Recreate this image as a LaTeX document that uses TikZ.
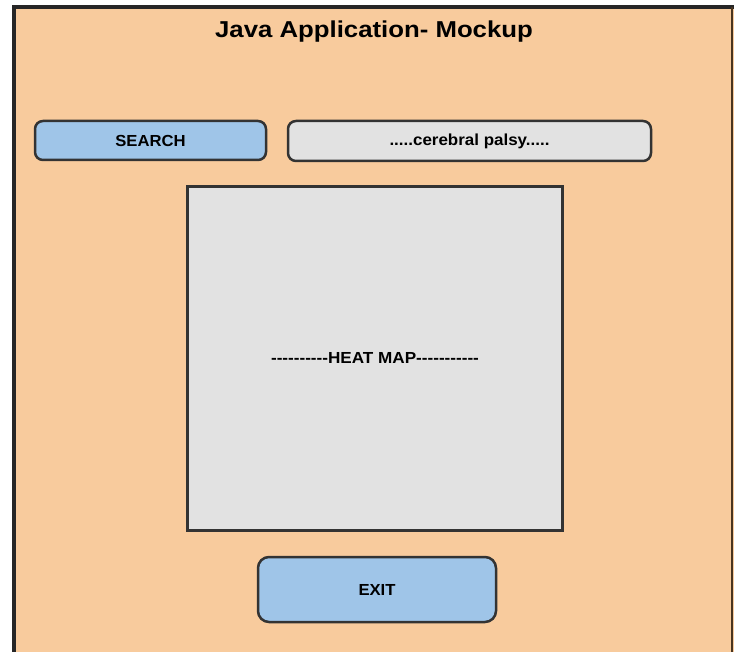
\documentclass[tikz,border=0pt]{standalone}
\usepackage{fontspec}
\setmainfont{Liberation Sans}
% same face without the TeX dash mapping, so runs of hyphens stay hyphens
\newfontfamily\plainsans{Liberation Sans}
\usepackage{graphicx}
\definecolor{peach}{HTML}{F8CB9D}
\definecolor{btnblue}{HTML}{9FC5E8}
\definecolor{fieldgray}{HTML}{E2E2E2}
\definecolor{edgegray}{HTML}{333333}
\definecolor{rightedge}{HTML}{4A3520}
\tikzset{
  btnbox/.style={draw=edgegray, line width=2.5pt, fill=btnblue, rounded corners=8pt},
  fieldbox/.style={draw=edgegray, line width=2.5pt, fill=fieldgray, rounded corners=8pt},
  mapbox/.style={draw=edgegray, line width=3pt, fill=fieldgray},
  lbl/.style={font=\fontsize{16}{18}\selectfont\bfseries, text=black, inner sep=0pt},
}
\begin{document}
\begin{tikzpicture}[x=1pt, y=-1pt]
\useasboundingbox (0,0) rectangle (734,652);
% window background and frame
\fill[peach] (14,7) rectangle (734,660);
\draw[black!85, line width=4pt] (14,660) -- (14,7) -- (734,7);
\draw[rightedge, line width=2pt] (732,7) -- (732,660);
% title
\node[lbl, anchor=base] (title) at (374,38)
  {\scalebox{1.12}[1]{\fontsize{23}{26}\selectfont\bfseries Java Application- Mockup}};
% search row
\draw[btnbox] (35,121) rectangle (266,160);
\node[lbl] (search) at (150.5,140.5) {\scalebox{1.04}[1]{SEARCH}};
\draw[fieldbox] (288,121) rectangle (651,161);
\node[lbl] (query) at (469.5,141) {\scalebox{1.06}[1]{.....cerebral palsy.....}};
% heat map area
\draw[mapbox] (187,187) rectangle (562,530);
\node[lbl] (heatmap) at (375,358)
  {\scalebox{1.07}[1]{\plainsans\bfseries ----------HEAT MAP-----------}};
% exit button
\draw[btnbox, rounded corners=11pt] (258,557) rectangle (496,622);
\node[lbl] (exit) at (377,589.5) {\scalebox{1.04}[1]{EXIT}};
\end{tikzpicture}
\end{document}
